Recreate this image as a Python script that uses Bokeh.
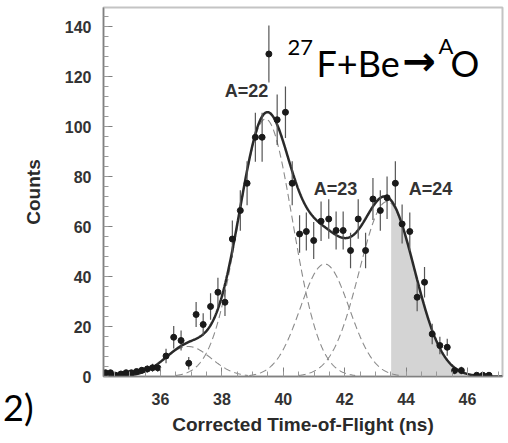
import numpy as np
from bokeh.plotting import figure
from bokeh.models import Range1d, Label, FixedTicker, Div
from bokeh.layouts import column
from bokeh.embed import file_html
from bokeh.resources import INLINE

# ---- data ----
tof = [34.21, 34.37, 34.54, 34.71, 34.88, 35.05, 35.22, 35.39, 35.57, 35.74, 35.91,
       36.18, 36.43, 36.67, 36.92, 37.16, 37.39, 37.63, 37.87, 38.10, 38.34,
       38.60, 38.82, 39.09, 39.31, 39.53, 39.80, 40.07, 40.29, 40.53, 40.75,
       40.99, 41.23, 41.48, 41.72, 41.95, 42.19, 42.44, 42.68, 42.92, 43.16,
       43.38, 43.65, 43.87, 44.12, 44.36, 44.60, 44.85, 45.10, 45.34, 45.58,
       45.80, 46.30, 46.50, 46.70]
counts = [1.5, 1.5, 0.5, 1.0, 1.5, 1.5, 2.0, 2.5, 3.0, 3.5, 3.5,
          8.2, 15.7, 14.4, 5.3, 24.8, 20.8, 28.0, 33.7, 29.7, 55.0,
          66.4, 77.3, 95.7, 95.7, 129.0, 102.7, 105.7, 77.3, 57.0, 58.0,
          54.4, 62.1, 63.0, 58.4, 58.4, 50.4, 63.0, 50.4, 71.0, 66.4,
          71.5, 77.3, 61.0, 58.0, 31.7, 37.7, 17.0, 12.4, 11.7, 2.4,
          2.4, 0.5, 0.5, 0.5]
errors = [0.8, 0.8, 0.5, 0.7, 0.8, 0.8, 1.0, 1.2, 1.4, 1.6, 1.6,
          2.9, 4.5, 4.0, 2.5, 5.0, 4.5, 5.3, 5.8, 5.5, 7.4,
          8.1, 8.8, 9.8, 9.8, 11.4, 10.1, 10.3, 8.8, 7.5, 7.6,
          7.4, 7.9, 7.9, 7.6, 7.6, 7.1, 7.9, 7.1, 8.4, 8.1,
          8.5, 8.8, 7.8, 7.6, 5.6, 6.1, 4.1, 3.5, 3.4, 1.5,
          1.5, 0.7, 0.7, 0.7]

# fitted Gaussian components (centre, height, width)
comp_center = [36.9, 39.42, 41.35, 43.38]
comp_height = [12.0, 103.0, 45.0, 70.0]
comp_sigma = [0.75, 0.88, 0.80, 0.90]
shade_start = 43.5

peak_labels = ["A=22", "A=23", "A=24"]

x_ticks = [36, 38, 40, 42, 44, 46]
y_ticks = [0, 20, 40, 60, 80, 100, 120, 140]

# ---- layout ----
X0, X1 = 34.143, 47.14
Y0, Y1 = 0.0, 147.6
FL, FT, FW, FH = 103, 7, 399, 369


def px2x(px):
    return X0 + (px - FL) * (X1 - X0) / FW


def px2y(py):
    return Y0 + (FT + FH - py) * (Y1 - Y0) / FH


p = figure(width=508, height=443, output_backend="svg", toolbar_location=None,
           x_range=Range1d(X0, X1), y_range=Range1d(Y0, Y1),
           min_border_left=FL, min_border_right=508 - FL - FW,
           min_border_top=FT, min_border_bottom=443 - FT - FH)
p.background_fill_color = "white"
p.border_fill_color = "white"
p.outline_line_color = "#c4c4c4"
p.outline_line_width = 2
p.xgrid.visible = False
p.ygrid.visible = False

xs = np.linspace(X0, X1, 800)
comps = [h * np.exp(-(xs - c) ** 2 / (2 * s ** 2))
         for c, h, s in zip(comp_center, comp_height, comp_sigma)]
total = np.sum(comps, axis=0)

m = xs >= shade_start
p.varea(x=xs[m], y1=np.zeros(m.sum()), y2=total[m], fill_color="#d4d4d4")

for g in comps:
    k = g > 0.4
    p.line(xs[k], g[k], line_color="#8a8a8a", line_width=1.1, line_dash="7 4")

p.line(xs, total, line_color="#2a2a2a", line_width=2.5)

tof_a = np.array(tof)
cnt_a = np.array(counts)
err_a = np.array(errors)
p.segment(x0=tof_a, y0=cnt_a - err_a, x1=tof_a, y1=cnt_a + err_a,
          line_color="#555555", line_width=1.2)
p.scatter(tof_a, cnt_a, size=6, marker="circle", fill_color="#1a1a1a", line_color="#1a1a1a")

# axes
for ax in (p.xaxis[0], p.yaxis[0]):
    ax.axis_line_color = "#808080"
    ax.axis_line_width = 1.5
    ax.major_tick_line_color = "#808080"
    ax.minor_tick_line_color = "#999999"
    ax.major_tick_in = 9
    ax.major_tick_out = 0
    ax.minor_tick_in = 5
    ax.minor_tick_out = 0
    ax.major_label_text_font = "Liberation Sans"
    ax.major_label_text_font_style = "bold"
    ax.major_label_text_font_size = "16px"
    ax.major_label_text_color = "#333333"
    ax.axis_label_text_font = "Liberation Sans"
    ax.axis_label_text_font_style = "bold"
    ax.axis_label_text_font_size = "19px"
    ax.axis_label_text_color = "#2a2a2a"

p.xaxis[0].ticker = FixedTicker(ticks=x_ticks, minor_ticks=list(np.arange(34.5, 47.01, 0.5)))
p.yaxis[0].ticker = FixedTicker(ticks=y_ticks, minor_ticks=list(np.arange(0, 147, 4)))
p.xaxis.axis_label = "Corrected Time-of-Flight (ns)"
p.yaxis.axis_label = "Counts"
p.xaxis.major_label_standoff = 16
p.yaxis.major_label_standoff = 12
p.xaxis.axis_label_standoff = 6
p.yaxis.axis_label_standoff = 18

# peak labels
label_pos = [(246, 90), (335, 188), (430, 188)]
for txt, (lx, ly) in zip(peak_labels, label_pos):
    p.add_layout(Label(x=px2x(lx), y=px2y(ly), text=txt, text_align="center",
                       text_baseline="middle", text_font="Liberation Sans",
                       text_font_style="bold", text_font_size="18px",
                       text_color="#333333", background_fill_color="white",
                       background_fill_alpha=0.6))

# reaction title
big = "36px"
small = "22px"
title_parts = [("27", 287, 47, small, "Lato", "normal"),
               ("F+Be", 316, 62, big, "Lato", "normal"),
               ("\u2192", 402, 60, "40px", "DejaVu Sans", "bold"),
               ("A", 438, 45, small, "Lato", "normal"),
               ("O", 450, 62, big, "Lato", "normal")]
for txt, lx, ly, fs, fnt, sty in title_parts:
    p.add_layout(Label(x=px2x(lx), y=px2y(ly), text=txt, text_align="left",
                       text_baseline="alphabetic", text_font=fnt,
                       text_font_style=sty,
                       text_font_size=fs, text_color="black"))

# fragment of slide text at bottom-left, outside the plot frame
frag = Div(text='<span style="position:absolute; left:-2px; top:-61px; '
                'font-family:Lato; font-size:36px; line-height:40px; color:black; '
                'white-space:nowrap;">2)</span>',
           width=30, height=0, styles={"overflow": "visible"})

layout = column(p, frag, spacing=0)
open("out.html", "w").write(file_html(layout, INLINE))
